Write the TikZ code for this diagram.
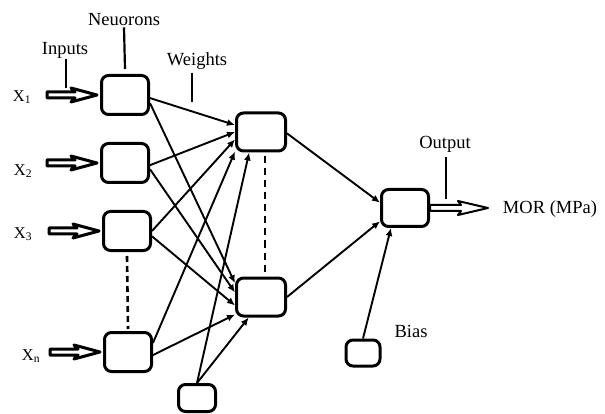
\documentclass[tikz,border=0pt]{standalone}
\usepackage{fontspec}
\setmainfont{Liberation Serif}
\usetikzlibrary{arrows.meta,positioning,calc}

\begin{document}
\begin{tikzpicture}[x=1pt,y=-1pt,
  neuron/.style={draw,line width=3pt,rounded corners=7pt,
    minimum width=47pt,minimum height=39pt,inner sep=0pt},
  wire/.style={line width=1.9pt,-{Latex[length=8pt,width=7pt]}},
  tick/.style={line width=2.2pt},
  hollow/.style={draw,fill=white,line width=3pt,line join=round},
  tag/.style={font=\fontsize{18.5}{20}\selectfont,inner sep=1pt},
  xlab/.style={font=\fontsize{16.5}{18}\selectfont,inner sep=1pt}]
 \useasboundingbox (0,0) rectangle (605,414);
 % input layer
 \foreach \n/\x/\y/\lx/\ly/\t in {n1/125/95/22/97/1,n2/125/163/23/171/2,
   n3/127/231/23/234/3,nn/128/352/31/356/n}{
   \node[neuron] (\n) at (\x,\y) {};
   \node[xlab] (x\t) at (\lx,\ly) {X\textsubscript{\t}};
   \draw[hollow] ([xshift=-3pt]\n.west) -- ++(-26,-7) -- ++(4,4) -- ++(-28,0)
     -- ++(0,6) -- ++(28,0) -- ++(-4,4) -- cycle;
 }
 % hidden layer, bias and output
 \node[neuron,minimum width=49pt,minimum height=38pt] (h1) at (261,132) {};
 \node[neuron,minimum width=49pt,minimum height=38pt] (h2) at (261,297) {};
 \node[neuron,minimum width=37pt,minimum height=27pt] (b1) at (197,398) {};
 \node[neuron,minimum height=37pt] (out) at (405,208) {};
 \node[neuron,minimum width=34pt,minimum height=26pt] (b2) at (363,353) {};
 \draw[line width=2.6pt,dash pattern=on 6pt off 4pt]
   ([yshift=-4pt]n3.south) -- ([yshift=2pt]nn.north);
 \draw[line width=2.6pt,dash pattern=on 7pt off 5pt]
   ([xshift=4pt,yshift=-4pt]h1.south) -- ([xshift=4pt,yshift=2pt]h2.north);
 % weights
 \foreach \a/\b in {n1.-7/h1.165,n2.-5/h1.180,n3.0/h1.196,nn.20/h1.217}
   \draw[wire] (\a) -- (\b);
 \foreach \a/\b in {n1.-18/h2.152,n2.-14/h2.170,n3.-12/h2.198,nn.-7/h2.214}
   \draw[wire] (\a) -- (\b);
 \draw[wire] (b1.north) -- (h1.240);
 \draw[wire] (b1.north) -- (h2.239);
 \draw[wire] (h1.-3) -- (out.168);
 \draw[wire] (h2.east) -- (out.208);
 \draw[wire] (b2.north) -- (out.235);
 % output arrow
 \draw[hollow,line width=2pt] (out.east) ++(0,-3) -- ++(31,0) -- ++(-3,-4)
   -- ++(30,7) -- ++(-30,7) -- ++(3,-4) -- ++(-31,0) -- cycle;
 % labels
 \node[tag] (neu) at (124,20) {Neuorons};
 \node[tag] (inp) at (65,50) {Inputs};
 \node[tag] (wts) at (197,61) {Weights};
 \node[tag] (outl) at (445,144) {Output};
 \node[tag] (mor) at (550,209) {MOR (MPa)};
 \node[tag] (bias) at (411,331) {Bias};
 \coordinate (ie) at (66,88);
 \coordinate (we) at (192,102);
 \coordinate (oe) at (446,199);
 \draw[tick] (neu.south) -- ([yshift=5pt]n1.north);
 \draw[tick] (inp.south -| ie) -- (ie);
 \draw[tick] ([yshift=-2pt]wts.south -| we) -- (we);
 \draw[tick] ([yshift=-4pt]outl.south -| oe) -- (oe);
\end{tikzpicture}
\end{document}
